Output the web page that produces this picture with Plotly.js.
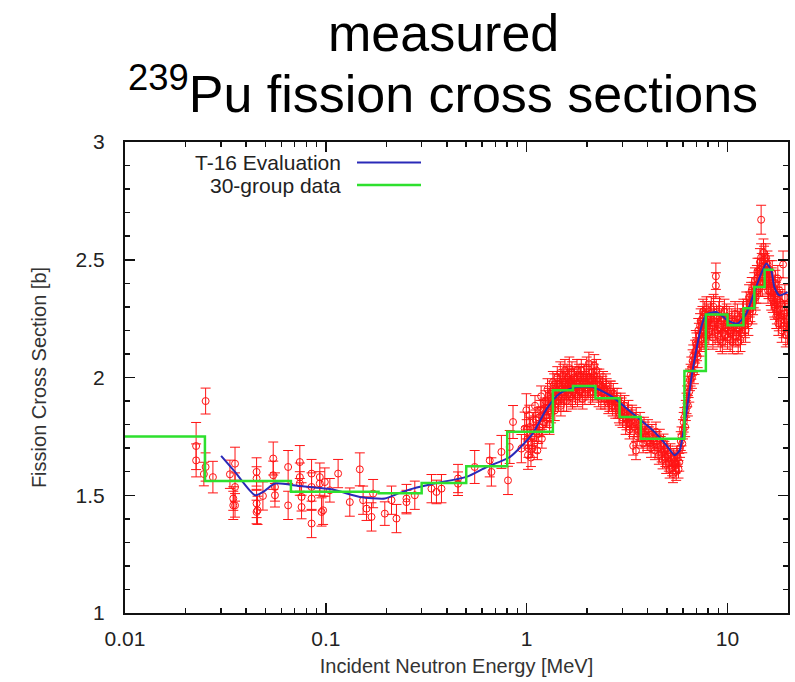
<!DOCTYPE html>
<html>
<head>
<meta charset="utf-8">
<script src="https://cdn.plot.ly/plotly-3.0.1.min.js"></script>
<style>html,body{margin:0;padding:0;background:#fff;}#chart{width:795px;height:682px;}</style>
</head>
<body>
<div id="chart"></div>
<script>
// ---- measured data, sparse low-energy set (MeV, barn, barn) ----
var lowE = [0.0226,0.0226,0.0252,0.0252,0.0247,0.0274,0.0333,0.0353,0.0353,0.0353,0.0346,0.0346,
  0.0452,0.0452,0.0452,0.0452,0.0457,0.0486,0.0547,0.0547,0.0558,0.0558,0.0649,0.0649,
  0.0742,0.0742,0.0742,0.0757,0.0757,0.0849,0.0849,0.0849,0.0849,0.0933,0.0933,0.0952,0.0969,
  0.0988,0.1047,0.1151,0.1316,0.1476,0.1533,0.1594,0.1688,0.1719,0.1966,0.2123,0.2247,0.2520,
  0.2520,0.2773,0.3357,0.3554,0.3764,0.4551,0.4551,0.551,0.6545,0.6674,0.7484,0.807,0.8232,
  0.855,0.941,0.977,0.9965,1.015];
var lowXS = [1.709,1.648,1.90,1.62,1.59,1.577,1.589,1.634,1.535,1.457,1.486,1.457,
  1.599,1.571,1.465,1.429,1.436,1.497,1.656,1.585,1.535,1.50,1.62,1.457,
  1.641,1.577,1.55,1.493,1.45,1.592,1.535,1.486,1.38,1.577,1.55,1.429,1.436,
  1.556,1.521,1.592,1.471,1.61,1.479,1.443,1.408,1.507,1.422,1.479,1.401,1.486,
  1.471,1.50,1.528,1.514,1.528,1.571,1.549,1.62,1.648,1.599,1.684,1.563,1.705,
  1.811,1.698,1.783,1.861,1.67];
var lowErr = [0.10,0.07,0.055,0.06,0.05,0.067,0.06,0.07,0.06,0.05,0.05,0.06,
  0.06,0.05,0.06,0.05,0.06,0.06,0.07,0.06,0.06,0.05,0.07,0.06,
  0.07,0.06,0.05,0.06,0.05,0.06,0.06,0.05,0.06,0.06,0.05,0.06,0.06,
  0.06,0.05,0.06,0.06,0.07,0.06,0.05,0.06,0.06,0.05,0.06,0.06,0.06,
  0.05,0.06,0.06,0.05,0.06,0.06,0.05,0.07,0.07,0.06,0.07,0.06,0.07,
  0.07,0.06,0.07,0.07,0.06];

// ---- measured data, dense high-energy set A (MeV, barn) ----
var hiE = [1.00,1.02,1.03,1.05,1.06,1.08,1.09,1.10,1.12,1.13,1.15,1.16,1.18,1.19,1.21,1.22,1.24,1.25,1.27,1.28,1.30,1.31,1.33,1.35,1.36,1.38,1.40,1.42,1.44,1.46,1.48,
  1.50,1.52,1.54,1.56,1.58,1.60,1.62,1.64,1.66,1.68,1.70,1.73,1.75,1.78,1.80,1.83,1.85,1.88,1.90,1.93,1.96,1.99,2.02,2.05,2.08,2.11,2.14,2.17,2.20,2.24,2.28,2.32,2.36,2.40,2.45,2.50,2.55,2.60,2.65,2.70,2.76,2.82,2.88,2.94,3.00,3.07,3.14,3.21,3.28,3.35,3.43,3.50,3.51,3.59,3.67,3.75,3.84,3.93,4.02,4.11,4.20,4.30,4.40,4.50,4.60,4.70,4.80,4.90,5.00,5.10,5.20,5.30,5.40,5.50,5.60,5.70,5.80,5.90,6.00,6.10,6.20,6.30,6.40,6.50,6.60,6.70,6.80,6.90,7.00,7.10,7.20,7.30,7.40,7.50,7.60,7.70,7.80,7.90,8.00,8.15,8.30,8.45,8.60,8.75,8.75,8.90,9.05,9.20,9.35,9.50,9.65,9.80,10.0,10.2,10.4,10.6,10.8,11.0,11.2,11.4,11.6,11.8,12.0,12.2,12.4,12.6,12.8,13.0,13.2,13.4,13.6,13.8,14.0,14.2,14.4,14.6,14.7,14.7,14.8,15.0,15.2,15.4,15.6,15.8,16.0,16.2,16.4,16.6,16.8,17.0,17.2,17.4,17.6,17.8,18.0,18.3,18.6,18.9,19.2,19.5,19.8];
var hiXS = [1.78,1.70,1.84,1.66,1.75,1.81,1.72,1.88,1.77,1.69,1.83,1.79,1.92,1.74,1.86,1.81,1.90,1.84,1.95,1.87,1.80,1.93,1.89,1.98,1.91,1.86,1.95,2.00,1.90,1.96,1.88,
  1.94,2.01,1.93,1.97,1.90,2.00,1.95,1.98,1.92,2.02,1.96,1.99,1.93,2.03,1.97,1.94,2.00,1.96,1.91,2.01,1.97,2.04,1.95,1.99,1.93,2.02,1.97,2.05,1.95,1.99,1.92,1.97,1.94,1.98,1.91,1.95,1.89,1.94,1.90,1.93,1.87,1.91,1.85,1.89,1.83,1.88,1.82,1.86,1.80,1.84,1.79,1.69,1.83,1.77,1.81,1.74,1.79,1.75,1.78,1.72,1.76,1.73,1.77,1.70,1.74,1.68,1.72,1.66,1.70,1.64,1.68,1.62,1.66,1.63,1.67,1.61,1.70,1.75,1.78,1.83,1.86,1.92,1.96,1.99,2.04,2.07,2.02,2.11,2.14,2.09,2.18,2.22,2.16,2.25,2.20,2.27,2.23,2.18,2.26,2.21,2.29,2.17,2.24,2.43,2.39,2.20,2.27,2.16,2.24,2.19,2.28,2.21,2.17,2.25,2.20,2.15,2.23,2.18,2.26,2.21,2.16,2.24,2.28,2.22,2.31,2.26,2.34,2.29,2.37,2.32,2.39,2.34,2.42,2.37,2.45,2.40,2.67,2.51,2.47,2.43,2.50,2.45,2.41,2.48,2.39,2.44,2.36,2.41,2.33,2.38,2.30,2.35,2.28,2.42,2.25,2.32,2.20,2.48,2.27,2.18,2.30];

// ---- measured data, dense high-energy set B (MeV, barn) ----
var hi2E = [1.01,1.04,1.07,1.11,1.14,1.17,1.20,1.23,1.26,1.29,1.32,1.34,1.37,1.39,1.41,1.43,1.45,1.47,1.49,1.51,1.53,1.55,1.57,1.59,1.61,1.63,1.65,1.67,1.69,1.72,1.74,1.77,1.79,1.82,1.84,1.87,1.89,1.92,1.95,1.98,2.01,2.04,2.07,2.10,2.13,2.16,2.19,2.22,2.26,2.30,2.34,2.38,2.43,2.48,2.53,2.58,2.63,2.68,2.73,2.79,2.85,2.91,2.97,3.04,3.11,3.18,3.25,3.32,3.39,3.47,3.55,3.63,3.71,3.80,3.89,3.98,4.07,4.16,4.25,4.35,4.45,4.55,4.65,4.75,4.85,4.95,5.05,5.15,5.25,5.35,5.45,5.55,5.65,5.75,5.85,5.95,6.05,6.15,6.25,6.35,6.45,6.55,6.65,6.75,6.85,6.95,7.05,7.15,7.25,7.35,7.45,7.55,7.65,7.75,7.85,7.95,8.07,8.22,8.37,8.52,8.68,8.82,8.97,9.12,9.27,9.42,9.57,9.72,9.90,10.1,10.3,10.5,10.7,10.9,11.1,11.3,11.5,11.7,11.9,12.1,12.3,12.5,12.7,12.9,13.1,13.3,13.5,13.7,13.9,14.1,14.3,14.5,14.9,15.1,15.3,15.5,15.7,15.9,16.1,16.3,16.5,16.7,16.9,17.1,17.3,17.5,17.7,17.9,18.1,18.4,18.7,19.0,19.3,19.6,19.9];
var hi2XS = [1.74,1.79,1.70,1.82,1.76,1.86,1.80,1.87,1.83,1.91,1.85,1.94,1.97,1.90,1.93,1.97,1.92,2.02,1.95,1.98,1.90,2.03,1.95,1.99,1.93,2.04,1.96,1.99,1.91,2.00,1.95,1.98,1.92,2.01,1.96,2.03,1.95,1.98,1.93,2.00,1.97,2.06,1.96,1.99,1.94,2.01,1.96,2.03,1.95,1.99,1.91,1.96,1.93,1.97,1.92,1.90,1.94,1.88,1.91,1.89,1.87,1.84,1.87,1.85,1.80,1.84,1.78,1.82,1.71,1.81,1.75,1.79,1.77,1.72,1.77,1.73,1.75,1.70,1.74,1.69,1.73,1.67,1.71,1.65,1.69,1.63,1.67,1.61,1.65,1.59,1.64,1.60,1.66,1.64,1.73,1.72,1.81,1.79,1.89,1.88,1.94,2.01,2.00,2.09,2.06,2.15,2.12,2.20,2.14,2.24,2.19,2.28,2.17,2.24,2.29,2.22,2.19,2.27,2.22,2.30,2.19,2.25,2.18,2.29,2.21,2.15,2.25,2.18,2.26,2.22,2.16,2.24,2.19,2.27,2.21,2.15,2.23,2.19,2.27,2.24,2.20,2.28,2.23,2.31,2.35,2.28,2.35,2.41,2.37,2.45,2.40,2.49,2.40,2.53,2.47,2.51,2.44,2.37,2.46,2.40,2.34,2.44,2.36,2.31,2.40,2.26,2.33,2.23,2.37,2.27,2.31,2.22,2.34,2.25,2.19];
var hiErrPct = 2.3;

// ---- T-16 evaluation ----
var evalE = [0.0301,0.0352,0.0444,0.0498,0.0557,0.0743,0.1084,0.1477,0.1967,0.2335,0.271,0.341,0.502,0.632,0.823,1.071,1.259,1.459,1.773,2.13,2.68,3.37,4.24,4.97,5.45,5.77,6.11,6.70,7.40,7.83,8.79,10.0,11.2,12.4,13.6,14.7,15.6,16.5,17.1,18.1,19.9];
var evalXS = [1.667,1.60,1.50,1.52,1.55,1.539,1.524,1.493,1.486,1.51,1.528,1.549,1.578,1.62,1.662,1.762,1.868,1.932,1.96,1.96,1.917,1.847,1.776,1.712,1.67,1.69,1.80,2.03,2.214,2.267,2.278,2.243,2.229,2.271,2.363,2.441,2.484,2.455,2.384,2.349,2.363];

// ---- 30-group data: group lower edges (MeV) and group values (b) ----
var grpEdges = [0.01,0.025,0.067,0.183,0.30,0.50,0.80,1.35,1.70,2.20,2.90,3.70,6.10,7.80,10.0,12.0,13.6,15.3,17.0];
var grpXS = [1.75,1.56,1.515,1.508,1.552,1.623,1.77,1.946,1.964,1.912,1.832,1.74,2.028,2.267,2.222,2.294,2.384,2.458];

var legendNames = ['T-16 Evaluation','30-group data'];
var titleLines = ['measured','<sup>239</sup>Pu fission cross sections'];
var xTickVals = [0.01,0.1,1,10];
var xTickText = ['0.01','0.1','1','10'];

var RED = '#ff1414', BLUE = '#2a2ab8', GREEN = '#2ee02e';
var FONT = 'Liberation Sans, Arial, sans-serif';

var grpY = grpXS.concat([grpXS[grpXS.length-1]]);

var minorX = [];
[0.01,0.1,1,10].forEach(function(d){ for (var k=2;k<=9;k++){ if (d*k<=20) minorX.push(+(d*k).toPrecision(3)); } });

function dataTrace(x, y, err){
  return {x:x, y:y, type:'scatter', mode:'markers', showlegend:false,
    marker:{symbol:'circle-open', size:7, color:RED, line:{width:1, color:RED}},
    error_y: err};
}
var traces = [
  dataTrace(lowE, lowXS, {type:'data', array:lowErr, visible:true, color:RED, thickness:1, width:5}),
  dataTrace(hiE, hiXS, {type:'percent', value:hiErrPct, visible:true, color:RED, thickness:1, width:5}),
  dataTrace(hi2E, hi2XS, {type:'percent', value:hiErrPct, visible:true, color:RED, thickness:1, width:5}),
  {x: evalE, y: evalXS, type:'scatter', mode:'lines', name:legendNames[0], showlegend:false,
   line:{color:BLUE, width:2, shape:'spline', smoothing:0.6}},
  {x: grpEdges, y: grpY, type:'scatter', mode:'lines', name:legendNames[1], showlegend:false,
   line:{color:GREEN, width:2.5, shape:'hv'}}
];

var L = 125, R = 788, T = 142, B = 613;
function px2paperX(p){ return (p-L)/(R-L); }
function px2paperY(p){ return (B-p)/(B-T); }

var layout = {
  width:795, height:682,
  margin:{l:L, r:795-R, t:T, b:682-B, pad:0},
  paper_bgcolor:'#fff', plot_bgcolor:'#fff',
  font:{family:FONT, color:'#222', size:21},
  showlegend:false,
  xaxis:{type:'log', range:[-2, Math.log10(20)], tickmode:'array', tickvals:xTickVals, ticktext:xTickText,
         ticks:'inside', ticklen:10, tickwidth:1.5, tickcolor:'#111',
         minor:{tickmode:'array', tickvals:minorX, ticks:'inside', ticklen:5, tickwidth:1.5, tickcolor:'#111', showgrid:false},
         showline:true, linecolor:'#111', linewidth:2, mirror:'ticks', showgrid:false, zeroline:false,
         ticklabelstandoff:6, tickfont:{family:FONT, size:21, color:'#222'},
         title:{text:'Incident Neutron Energy [MeV]', font:{family:FONT, size:20, color:'#333'}, standoff:10}},
  yaxis:{range:[1,3], dtick:0.5, tick0:1,
         ticks:'inside', ticklen:10, tickwidth:1.5, tickcolor:'#111',
         minor:{dtick:0.1, ticks:'inside', ticklen:5, tickwidth:1.5, tickcolor:'#111', showgrid:false},
         showline:true, linecolor:'#111', linewidth:2, mirror:'ticks', showgrid:false, zeroline:false,
         ticklabelstandoff:14, tickfont:{family:FONT, size:21, color:'#222'},
         title:{text:'Fission Cross Section [b]', font:{family:FONT, size:20, color:'#333'}, standoff:24}},
  annotations:[
    {text:titleLines[0], xref:'paper', yref:'paper', x:px2paperX(443), y:px2paperY(64), xanchor:'center', yanchor:'bottom', showarrow:false, font:{family:FONT, size:52, color:'#000'}},
    {text:titleLines[1], xref:'paper', yref:'paper', x:px2paperX(443), y:px2paperY(125), xanchor:'center', yanchor:'bottom', showarrow:false, font:{family:FONT, size:52, color:'#000'}},
    {text:legendNames[0], xref:'paper', yref:'paper', x:px2paperX(343), y:px2paperY(162.5), xanchor:'right', yanchor:'middle', showarrow:false, font:{family:FONT, size:21, color:'#222'}},
    {text:legendNames[1], xref:'paper', yref:'paper', x:px2paperX(343), y:px2paperY(185), xanchor:'right', yanchor:'middle', showarrow:false, font:{family:FONT, size:21, color:'#222'}}
  ],
  shapes:[
    {type:'line', xref:'paper', yref:'paper', x0:px2paperX(357), x1:px2paperX(421), y0:px2paperY(162.5), y1:px2paperY(162.5), line:{color:BLUE, width:2}},
    {type:'line', xref:'paper', yref:'paper', x0:px2paperX(357), x1:px2paperX(421), y0:px2paperY(185), y1:px2paperY(185), line:{color:GREEN, width:2.5}}
  ]
};

Plotly.newPlot('chart', traces, layout, {staticPlot:true, displayModeBar:false});
</script>
</body>
</html>
